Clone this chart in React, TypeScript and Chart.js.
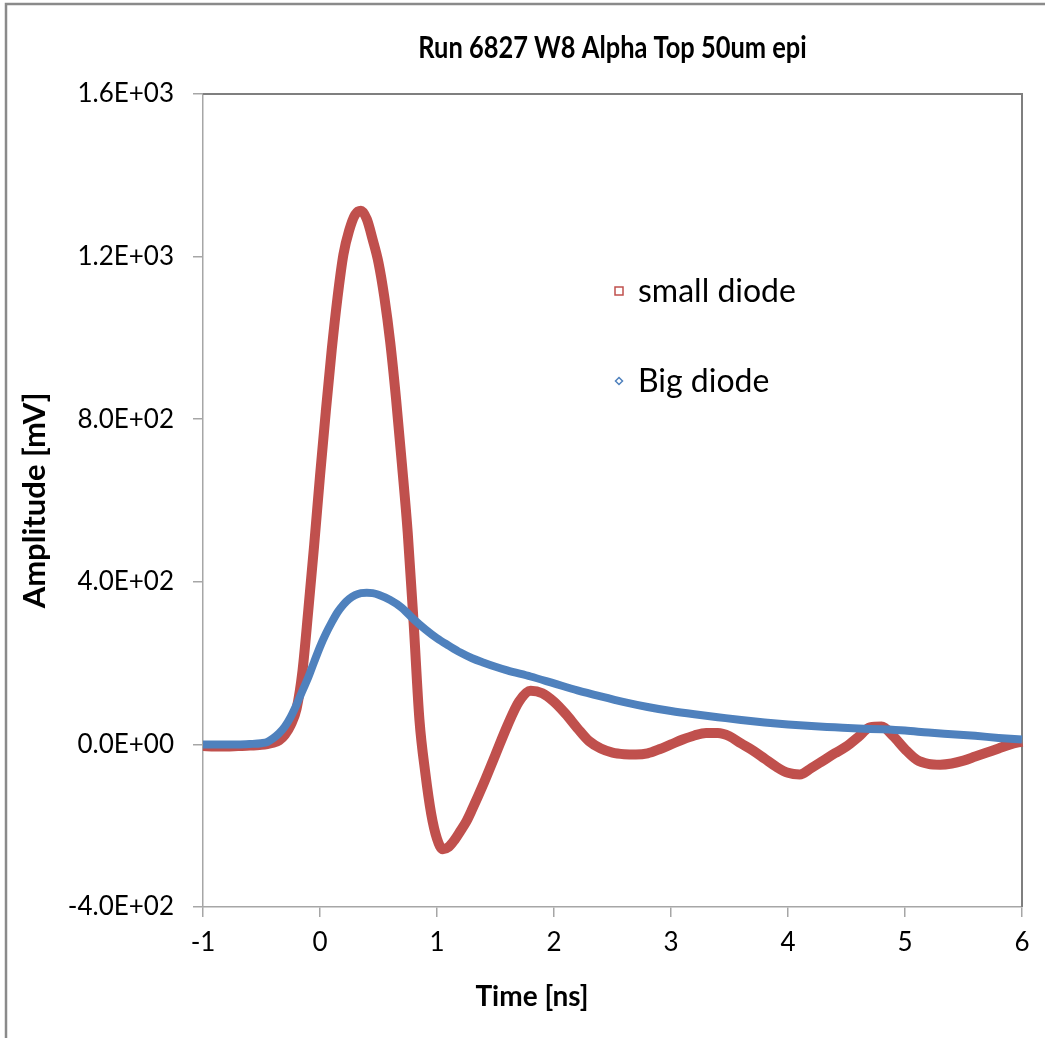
import React, { useEffect, useRef } from "react";
import { Chart, registerables } from "chart.js";

Chart.register(...registerables);

const chartTitle = "Run 6827 W8 Alpha Top 50um epi";
const xAxisTitle = "Time [ns]";
const yAxisTitle = "Amplitude [mV]";
const seriesNames = ["small diode", "Big diode"];
const seriesColors = ["#C0504D", "#4F81BD"];

const xMin = -1;
const xMax = 6;
const yTicks = [-400, 0, 400, 800, 1200, 1600];
const yTickLabels = ["-4.0E+02", "0.0E+00", "4.0E+02", "8.0E+02", "1.2E+03", "1.6E+03"];

// small diode (time in ns, amplitude in mV)
const smallTime = [
  -1.0, -0.9, -0.8, -0.7, -0.6, -0.5,
  -0.45, -0.4, -0.35, -0.3, -0.25, -0.2, -0.15, -0.1, -0.05, 0,
  0.05, 0.1, 0.15, 0.2, 0.25, 0.3, 0.35, 0.4, 0.45, 0.5,
  0.55, 0.6, 0.65, 0.7, 0.75, 0.8, 0.85, 0.9, 0.95, 1.0,
  1.05, 1.1, 1.15, 1.2, 1.25, 1.3,
  1.4, 1.5, 1.6, 1.7, 1.8, 1.9, 2.0, 2.1, 2.2, 2.3,
  2.4, 2.5, 2.6, 2.7, 2.8, 2.9, 3.0, 3.1, 3.2, 3.3,
  3.4, 3.5, 3.6, 3.7, 3.8, 3.9, 4.0, 4.1, 4.2, 4.3,
  4.4, 4.5, 4.6, 4.7, 4.8, 4.9, 5.0, 5.1, 5.2, 5.3,
  5.4, 5.5, 5.6, 5.7, 5.8, 5.9, 6.0,
];
const smallAmp = [
  -4, -5, -5, -4, -3, -1,
  1, 4, 10, 24, 48, 88, 180, 330, 490, 660,
  820, 970, 1100, 1205, 1265, 1303, 1313, 1292, 1242, 1185,
  1100, 990, 850, 690, 520, 300, 60, -70, -170, -232,
  -258, -252, -235, -213, -190, -160,
  -95, -25, 45, 105, 132, 126, 105, 75, 40, 8,
  -10, -20, -24, -25, -22, -12, 0, 12, 22, 28,
  28, 20, 2, -15, -35, -55, -70, -74, -58, -40,
  -22, -5, 18, 42, 44, 20, -12, -38, -48, -50,
  -47, -40, -30, -20, -10, 0, 7,
];

// Big diode
const bigTime = [
  -1.0, -0.9, -0.8, -0.7, -0.6, -0.5,
  -0.45, -0.4, -0.35, -0.3, -0.25, -0.2, -0.15, -0.1, -0.05, 0,
  0.05, 0.1, 0.15, 0.2, 0.25, 0.3, 0.35, 0.4, 0.45, 0.5,
  0.6, 0.7, 0.8, 0.9, 1.0, 1.1, 1.2, 1.3, 1.4, 1.5, 1.6,
  1.8, 2.0, 2.2, 2.4, 2.6, 2.8, 3.0, 3.2, 3.4, 3.6, 3.8,
  4.0, 4.2, 4.4, 4.6, 4.8, 5.0, 5.2, 5.4, 5.6, 5.8, 6.0,
];
const bigAmp = [
  0, 0, 0, 0, 1, 3,
  6, 15, 27, 44, 68, 98, 132, 165, 203, 240,
  272, 300, 325, 344, 358, 367, 372, 373, 372, 368,
  355, 336, 308, 283, 261, 243, 226, 212, 201, 191, 182,
  167, 150, 133, 118, 104, 92, 82, 74, 67, 60, 54,
  49, 45, 42, 39, 37, 34, 29, 25, 21, 16, 12,
];

const FONT = "Lato, 'Open Sans', sans-serif";

const toPoints = (xs: number[], ys: number[]) => xs.map((x, i) => ({ x, y: ys[i] }));

const decorPlugin = {
  id: "decor",
  beforeDraw(chart: any) {
    const ctx = chart.ctx as CanvasRenderingContext2D;
    ctx.save();
    ctx.fillStyle = "#ffffff";
    ctx.fillRect(0, 0, chart.width, chart.height);
    ctx.strokeStyle = "#8a8a8a";
    ctx.lineWidth = 2.5;
    ctx.beginPath();
    ctx.moveTo(6, chart.height);
    ctx.lineTo(6, 4);
    ctx.lineTo(chart.width, 4);
    ctx.stroke();
    ctx.restore();
  },
  beforeDatasetsDraw(chart: any) {
    const { ctx, chartArea } = chart;
    ctx.save();
    ctx.strokeStyle = "#7f7f7f";
    ctx.lineWidth = 2;
    ctx.beginPath();
    ctx.moveTo(chartArea.left, chartArea.top);
    ctx.lineTo(chartArea.right, chartArea.top);
    ctx.lineTo(chartArea.right, chartArea.bottom);
    ctx.stroke();
    ctx.restore();
  },
  afterDraw(chart: any) {
    const { ctx, chartArea } = chart;
    ctx.save();
    // main title (slightly condensed, like the original's narrow face)
    ctx.fillStyle = "#000000";
    ctx.textAlign = "center";
    ctx.textBaseline = "middle";
    ctx.font = `bold 31px ${FONT}`;
    ctx.save();
    ctx.translate((chartArea.left + chartArea.right) / 2, 48);
    ctx.scale(0.82, 1);
    ctx.fillText(chartTitle, 0, 0);
    ctx.restore();
    // x axis title
    ctx.font = `bold 28px ${FONT}`;
    ctx.fillText(xAxisTitle, 532, 997);
    // legend
    const lx = 619;
    const rows = [291, 381];
    ctx.font = `32px ${FONT}`;
    ctx.textAlign = "left";
    rows.forEach((ry, i) => {
      ctx.lineWidth = 1.5;
      ctx.strokeStyle = seriesColors[i];
      ctx.fillStyle = "#ffffff";
      if (i === 0) {
        ctx.fillRect(lx - 4, ry - 4, 8, 8);
        ctx.strokeRect(lx - 4, ry - 4, 8, 8);
      } else {
        ctx.beginPath();
        ctx.moveTo(lx, ry - 3.5);
        ctx.lineTo(lx + 3.5, ry);
        ctx.lineTo(lx, ry + 3.5);
        ctx.lineTo(lx - 3.5, ry);
        ctx.closePath();
        ctx.fill();
        ctx.stroke();
      }
      ctx.fillStyle = "#000000";
      ctx.fillText(seriesNames[i], lx + 19, ry + 1);
    });
    ctx.restore();
  },
};

export default function App() {
  const canvasRef = useRef<HTMLCanvasElement | null>(null);

  useEffect(() => {
    if (!canvasRef.current) return;
    const chart = new Chart(canvasRef.current, {
      type: "scatter",
      data: {
        datasets: [
          {
            label: seriesNames[0],
            data: toPoints(smallTime, smallAmp),
            showLine: true,
            borderColor: seriesColors[0],
            backgroundColor: seriesColors[0],
            borderWidth: 10,
            pointRadius: 0,
            cubicInterpolationMode: "monotone",
            clip: false,
            order: 2,
          },
          {
            label: seriesNames[1],
            data: toPoints(bigTime, bigAmp),
            showLine: true,
            borderColor: seriesColors[1],
            backgroundColor: seriesColors[1],
            borderWidth: 8,
            pointRadius: 0,
            cubicInterpolationMode: "monotone",
            clip: false,
            order: 1,
          },
        ],
      },
      options: {
        responsive: false,
        animation: false,
        devicePixelRatio: 1,
        layout: { padding: { top: 94, right: 23, left: 0, bottom: 0 } },
        plugins: {
          legend: { display: false },
          tooltip: { enabled: false },
          title: { display: false },
        },
        scales: {
          x: {
            type: "linear",
            min: xMin,
            max: xMax,
            ticks: {
              stepSize: 1,
              color: "#000000",
              font: { family: FONT, size: 26 },
              padding: 10,
            },
            grid: {
              drawOnChartArea: false,
              drawTicks: true,
              tickLength: 10,
              color: "#a6a6a6",
              lineWidth: 1.5,
            },
            border: { display: true, color: "#a6a6a6", width: 1.5 },
            afterFit: (s: any) => {
              s.height = 131;
            },
          },
          y: {
            type: "linear",
            min: yTicks[0],
            max: yTicks[yTicks.length - 1],
            afterBuildTicks: (s: any) => {
              s.ticks = yTicks.map((v) => ({ value: v }));
            },
            ticks: {
              color: "#000000",
              font: { family: FONT, size: 26 },
              padding: 19,
              callback: (v: any) => {
                const i = yTicks.indexOf(Number(v));
                return i >= 0 ? yTickLabels[i] : "";
              },
            },
            grid: {
              drawOnChartArea: false,
              drawTicks: true,
              tickLength: 10,
              color: "#a6a6a6",
              lineWidth: 1.5,
            },
            border: { display: true, color: "#a6a6a6", width: 1.5 },
            title: {
              display: true,
              text: yAxisTitle,
              color: "#000000",
              font: { family: FONT, size: 31, weight: "bold" },
              padding: { top: 16, bottom: 0 },
            },
            afterFit: (s: any) => {
              s.width = 203;
            },
          },
        },
      },
      plugins: [decorPlugin],
    });
    return () => chart.destroy();
  }, []);

  return (
    <div style={{ position: "absolute", left: 0, top: 0, width: 1045, height: 1038 }}>
      <canvas ref={canvasRef} width={1045} height={1038} />
    </div>
  );
}
